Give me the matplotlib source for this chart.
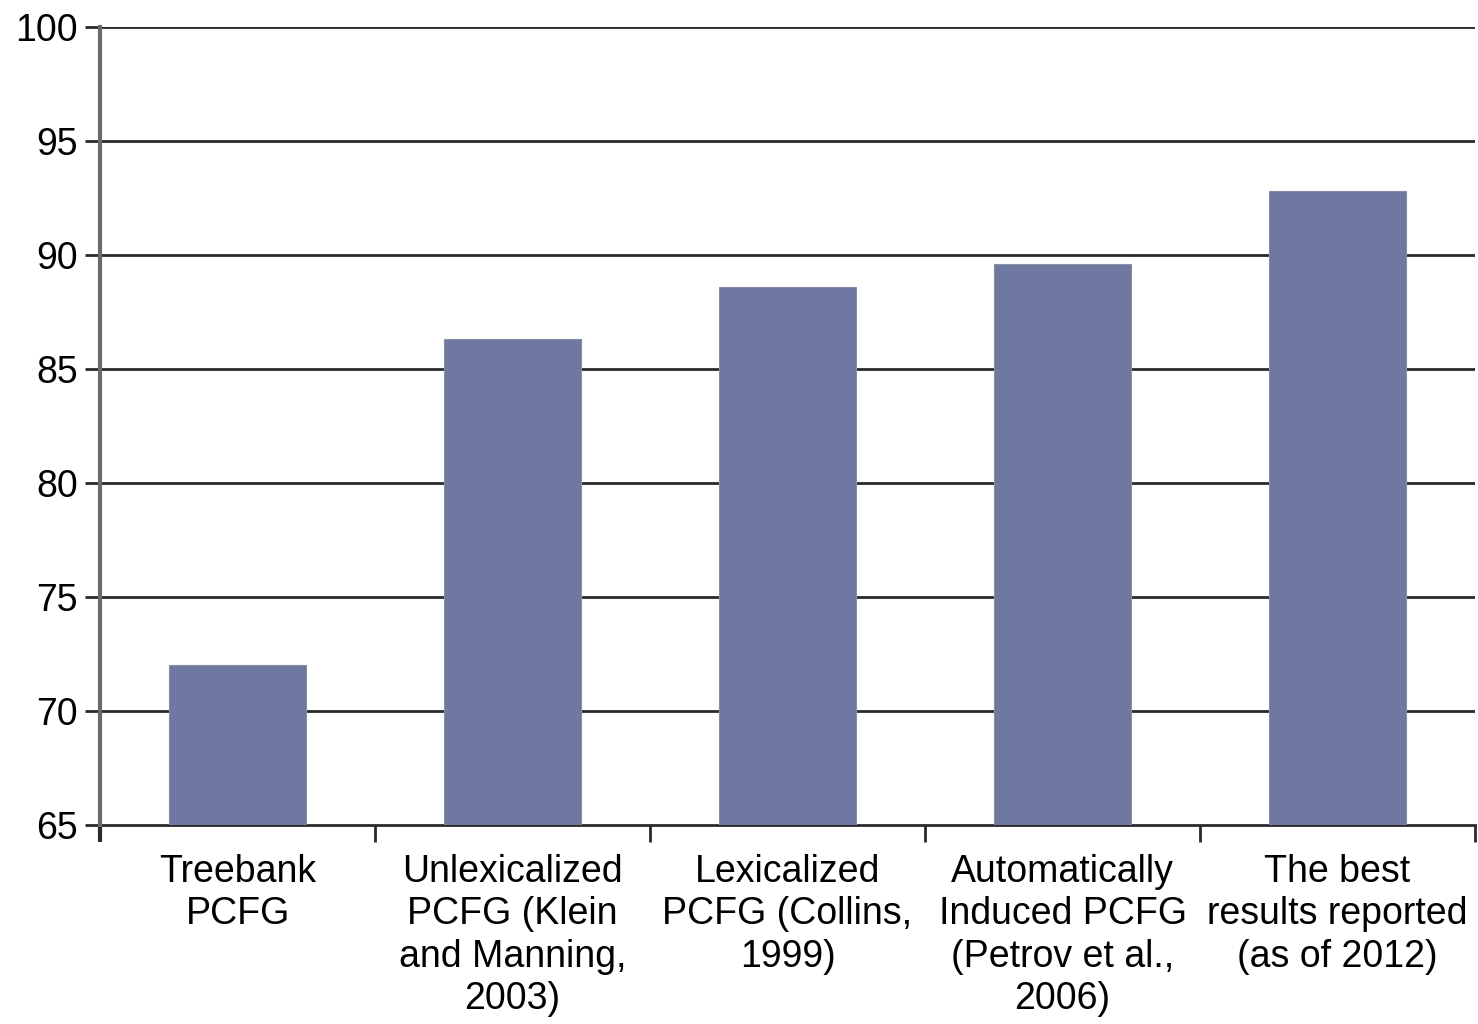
import matplotlib
matplotlib.use("Agg")
import matplotlib.pyplot as plt
import numpy as np

plt.rcParams['font.family'] = ['Liberation Sans', 'DejaVu Sans']

categories = [
    "Treebank\nPCFG",
    "Unlexicalized\nPCFG (Klein\nand Manning,\n2003)",
    "Lexicalized\nPCFG (Collins,\n1999)",
    "Automatically\nInduced PCFG\n(Petrov et al.,\n2006)",
    "The best\nresults reported\n(as of 2012)",
]
scores = [72.0, 86.3, 88.6, 89.6, 92.8]
y_ticks = [65, 70, 75, 80, 85, 90, 95, 100]

bar_color = "#6e78a0"
grid_color = "#2a2a2a"
spine_color = "#6a6a6a"

fig = plt.figure(figsize=(14.78, 10.24), dpi=100)
ax = fig.add_axes([0.0677, 0.1943, 0.9303, 0.7793])

x = np.arange(len(categories))
ax.bar(x, np.array(scores) - 65, bottom=65, width=0.5, color=bar_color,
       edgecolor="#8a8fa8", linewidth=0.8, zorder=3)

ax.set_ylim(65, 100)
ax.set_xlim(-0.5, len(categories) - 0.5)
ax.set_yticks(y_ticks)
ax.set_yticklabels([str(v) for v in y_ticks])
for v in y_ticks[1:]:
    ax.axhline(v, color=grid_color, linewidth=2.0, zorder=1)

ax.set_xticks(x)
ax.set_xticklabels(categories, fontsize=27, linespacing=1.22)
ax.set_xticks(np.arange(-0.5, len(categories)), minor=True)
ax.tick_params(axis='x', which='major', length=0, pad=21)
ax.tick_params(axis='x', which='minor', length=12, width=2.0, color=grid_color)
ax.tick_params(axis='y', length=11, width=2.0, color=grid_color, pad=5, labelsize=27)
ax.xaxis.get_minor_ticks()[0].tick1line.set_color(spine_color)
ax.xaxis.get_minor_ticks()[0].tick1line.set_markeredgewidth(3.0)

for s in ("top", "right"):
    ax.spines[s].set_visible(False)
ax.spines["bottom"].set_color(grid_color)
ax.spines["bottom"].set_linewidth(2.0)
ax.spines["left"].set_color(spine_color)
ax.spines["left"].set_linewidth(3.0)
ax.spines["left"].set_zorder(4)

fig.savefig("out.png", dpi=100, facecolor="white")
